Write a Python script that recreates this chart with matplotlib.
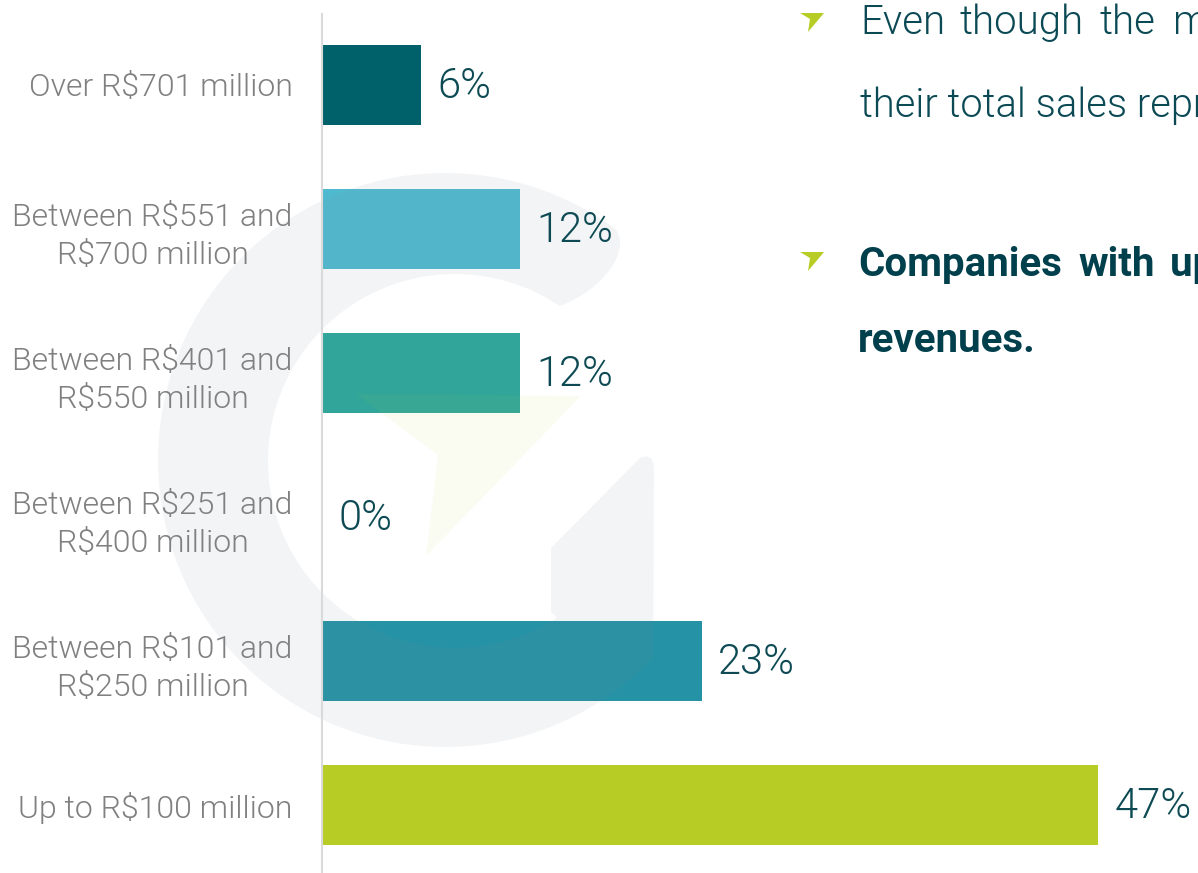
import os
import numpy as np
import matplotlib
matplotlib.use("Agg")
import matplotlib.pyplot as plt
from matplotlib.path import Path
from matplotlib.patches import PathPatch, Polygon
import matplotlib.transforms as mtransforms
import matplotlib.font_manager as fm

plt.rcParams['font.family'] = ['Roboto', 'DejaVu Sans']

# ---- data -------------------------------------------------------------
categories = [
    "Up to R$100 million",
    "Between R$101 and\nR$250 million",
    "Between R$251 and\nR$400 million",
    "Between R$401 and\nR$550 million",
    "Between R$551 and\nR$700 million",
    "Over R$701 million",
]
shares = [47, 23, 0, 12, 12, 6]
bar_colors = ["#b7cd25", "#2692a5", "#2692a5", "#31a59a", "#4fbacf", "#01616b"]

# bullet paragraphs, one list of words per justified line
line1_words = ["Even", "though", "the", "majority of"]
line2_text = "their total sales represent"
line3_words = ["Companies", "with", "up to R$100 million"]
line4_text = "revenues."


# ---- fonts --------------------------------------------------------------
def find_font(name):
    for f in fm.findSystemFonts():
        if os.path.basename(f) == name:
            return f
    return None


light_path = find_font("Roboto-Light.ttf")
bold_path = find_font("Roboto-Bold.ttf")


def light(size):
    if light_path:
        return fm.FontProperties(fname=light_path, size=size)
    return fm.FontProperties(family="Roboto", weight="normal", size=size)


def bold(size):
    if bold_path:
        return fm.FontProperties(fname=bold_path, size=size)
    return fm.FontProperties(family="Roboto", weight="bold", size=size)


# ---- figure -------------------------------------------------------------
W, H = 1198, 873
fig = plt.figure(figsize=(W / 100, H / 100), dpi=100)
fig.patch.set_facecolor("white")

# pixel-space helper (origin top-left, y downwards)
px = mtransforms.Affine2D().scale(1 / W, -1 / H).translate(0, 1) + fig.transFigure

ax = fig.add_axes([322 / W, 0, (W - 322) / W, (H - 14) / H])
ax.set_facecolor("none")
ypos = np.arange(len(categories))
ax.barh(ypos, shares, height=0.556, color=bar_colors, zorder=1)
ax.set_xlim(0, (W - 322) / 16.5)
ax.set_ylim(-0.472, 5.493)

for s in ("top", "right", "bottom"):
    ax.spines[s].set_visible(False)
ax.spines["left"].set_color("#dadada")
ax.spines["left"].set_linewidth(1.5)
ax.set_xticks([])
ax.set_yticks(ypos)
ax.set_yticklabels(categories, color="#808080", linespacing=1.37,
                   fontproperties=light(23))
for lab in ax.get_yticklabels():
    lab.set_multialignment("center")
ax.tick_params(axis="y", length=0, pad=21)

for y, v in zip(ypos, shares):
    ax.annotate(f"{v}%", xy=(v, y), xytext=(12, -1), textcoords="offset points",
                ha="left", va="center", fontproperties=light(30),
                color="#0d4a54", zorder=4, annotation_clip=False)

# ---- watermark logo -------------------------------------------------------
ocx, ocy, R = 445, 460, 287
icx, icy, r = 455, 461, 187


def ring_pt(x0, y0, rad, deg):
    t = np.deg2rad(deg)
    return x0 + rad * np.cos(t), y0 - rad * np.sin(t)


verts, codes = [], []
for i, d in enumerate(np.linspace(53.5, 316.5, 120)):
    verts.append(ring_pt(ocx, ocy, R, d))
    codes.append(Path.MOVETO if i == 0 else Path.LINETO)
verts += [(654, 470), (654, 452), (640, 458), (551, 548), (551, 612)]
codes += [Path.LINETO, Path.CURVE3, Path.CURVE3, Path.LINETO, Path.LINETO]
for d in np.linspace(303, 56, 120):
    verts.append(ring_pt(icx, icy, r, d))
    codes.append(Path.LINETO)
verts += [(600, 292), (632, 252), ring_pt(ocx, ocy, R, 53.5), (0, 0)]
codes += [Path.CURVE4, Path.CURVE4, Path.CURVE4, Path.CLOSEPOLY]
g_patch = PathPatch(Path(verts, codes), facecolor="#7d8ba0", edgecolor="none",
                    alpha=0.09, transform=px, zorder=2, clip_on=False)
ax.add_artist(g_patch)

arrow = Polygon([(356, 394), (581, 396), (426, 556), (438, 455)], closed=True,
                facecolor="#b7cd25", edgecolor="none", alpha=0.06,
                transform=px, zorder=2, clip_on=False)
ax.add_artist(arrow)

# ---- bullet text on the right --------------------------------------------
for top in (13, 252):
    tri = Polygon([(800, top), (824, top), (808, top + 19), (810, top + 6)],
                  closed=True, facecolor="#b7cd25", edgecolor="none",
                  transform=px, clip_on=False)
    fig.add_artist(tri)

LIGHT_C, BOLD_C = "#0b4a55", "#003f4c"


def put(x, base, txt, fp, color):
    fig.text(x / W, 1 - base / H, txt, ha="left", va="baseline",
             fontproperties=fp, color=color)


for x, w in zip([860, 960, 1100, 1173], line1_words):
    put(x, 34, w, light(29), LIGHT_C)
put(860, 117, line2_text, light(28.7), LIGHT_C)
for x, w in zip([858, 1078, 1170], line3_words):
    put(x, 276, w, bold(29), BOLD_C)
put(858, 352, line4_text, bold(29), BOLD_C)

fig.savefig("out.png", dpi=100, facecolor="white")
